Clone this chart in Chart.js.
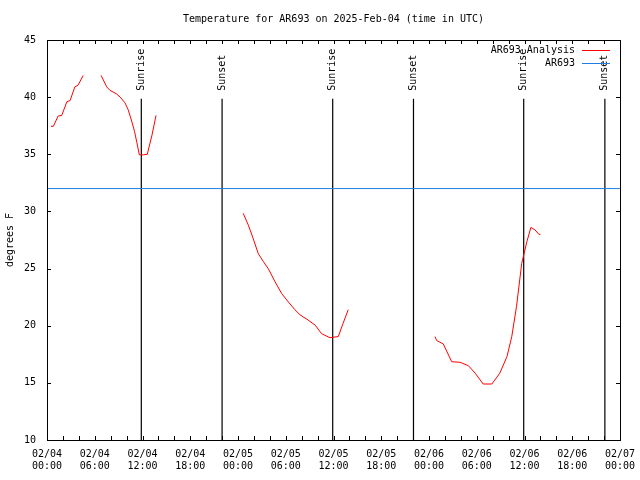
<!DOCTYPE html>
<html>
<head>
<meta charset="utf-8">
<script src="https://cdn.jsdelivr.net/npm/chart.js@4/dist/chart.umd.min.js"></script>
<style>
  html, body { margin: 0; padding: 0; background: #fff; }
</style>
</head>
<body>
<canvas id="tempChart" width="640" height="480"></canvas>
<script>
// hours since 2025-02-04 00:00 UTC, null = gap in the analysis
const analysisHours = [0.5, 0.8, 1.4, 1.85, 2.5, 2.9, 3.5, 3.9, 4.55, 5.5,
  6.8, 7.5, 7.9, 8.7, 9.2, 9.8, 10.2, 10.6, 11.0, 11.3, 11.6, 12.1, 12.6, 13.2, 13.7, 19,
  24.65, 25.3, 25.9, 26.55, 27.2, 27.8, 28.65, 29.5, 30.3, 31.15, 31.8, 32.8, 33.7, 34.5, 35.55, 36.6, 37.2, 37.85, 43,
  48.75, 48.97, 49.8, 50.85, 51.9, 52.95, 53.8, 54.8, 55.9, 56.9, 57.8, 58.4, 59.0, 59.65, 60.3, 60.8, 61.3, 61.8, 62.0];
const analysisTemps = [37.45, 37.45, 38.35, 38.4, 39.6, 39.7, 40.9, 41.05, 41.9, null,
  41.9, 40.9, 40.6, 40.3, 40.0, 39.5, 38.9, 38.0, 37.0, 36.0, 34.95, 34.95, 35.0, 36.7, 38.4, null,
  29.84, 28.8, 27.65, 26.3, 25.6, 25.0, 23.85, 22.8, 22.1, 21.4, 20.95, 20.5, 20.05, 19.3, 18.95, 19.05, 20.2, 21.4, null,
  19.05, 18.7, 18.4, 16.85, 16.8, 16.5, 15.85, 14.9, 14.9, 15.85, 17.3, 19.05, 21.7, 25.45, 27.35, 28.6, 28.4, 28.0, 28.0];

const stationHours = [0, 72];
const stationTemps = [32, 32];

const eventHours = [11.85, 22.0, 35.9, 46.05, 59.9, 70.1];
const eventNames = ["Sunrise", "Sunset", "Sunrise", "Sunset", "Sunrise", "Sunset"];
const eventTop = 39.85;

const xDays = ["02/04", "02/05", "02/06", "02/07"];
const yTicks = [10, 15, 20, 25, 30, 35, 40, 45];

const FONT = '10px "DejaVu Sans Mono"';

function toPoints(xs, ys) {
  return xs.map((x, i) => ({ x: x, y: ys[i] }));
}

const eventPoints = [];
eventHours.forEach(h => {
  eventPoints.push({ x: h, y: 10 }, { x: h, y: eventTop }, { x: h, y: null });
});

const gnuplotDecor = {
  id: "gnuplotDecor",
  afterDraw(chart) {
    const ctx = chart.ctx;
    const a = chart.chartArea;
    const xs = chart.scales.x;
    const ys = chart.scales.y;
    ctx.save();
    ctx.strokeStyle = "#000";
    ctx.lineWidth = 1;

    // frame
    ctx.strokeRect(Math.round(a.left) + 0.5, Math.round(a.top) + 0.5,
      Math.round(a.right - a.left), Math.round(a.bottom - a.top));

    // tick marks, inward and mirrored
    ctx.beginPath();
    for (let h = 0; h <= 72; h += 2) {
      const px = Math.round(xs.getPixelForValue(h)) + 0.5;
      ctx.moveTo(px, a.bottom); ctx.lineTo(px, a.bottom - 4);
      ctx.moveTo(px, a.top); ctx.lineTo(px, a.top + 4);
    }
    yTicks.forEach(v => {
      const py = Math.round(ys.getPixelForValue(v)) + 0.5;
      ctx.moveTo(a.left, py); ctx.lineTo(a.left + 4, py);
      ctx.moveTo(a.right, py); ctx.lineTo(a.right - 4, py);
    });
    ctx.stroke();

    // sunrise / sunset labels
    ctx.fillStyle = "#000";
    ctx.font = FONT;
    eventHours.forEach((h, i) => {
      ctx.save();
      ctx.translate(xs.getPixelForValue(h), ys.getPixelForValue(eventTop) - 8);
      ctx.rotate(-Math.PI / 2);
      ctx.textAlign = "left";
      ctx.textBaseline = "middle";
      ctx.fillText(eventNames[i], 0, 0);
      ctx.restore();
    });

    // title
    ctx.textAlign = "center";
    ctx.textBaseline = "middle";
    ctx.fillText("Temperature for AR693 on 2025-Feb-04 (time in UTC)", (a.left + a.right) / 2, 19);

    // legend (text then line sample, right aligned)
    const sets = chart.data.datasets.slice(0, 2);
    sets.forEach((ds, i) => {
      const y = a.top + 10 + i * 13;
      ctx.textAlign = "right";
      ctx.fillStyle = "#000";
      ctx.fillText(ds.label, a.right - 45, y);
      ctx.strokeStyle = ds.borderColor;
      ctx.beginPath();
      ctx.moveTo(a.right - 38, Math.round(y) + 0.5);
      ctx.lineTo(a.right - 10, Math.round(y) + 0.5);
      ctx.stroke();
    });
    ctx.restore();
  }
};

Chart.defaults.font.family = '"DejaVu Sans Mono", monospace';
Chart.defaults.font.size = 10;
Chart.defaults.color = "#000";

new Chart(document.getElementById("tempChart"), {
  type: "line",
  data: {
    datasets: [
      {
        label: "AR693 Analysis",
        data: toPoints(analysisHours, analysisTemps),
        borderColor: "#ff0000",
        borderWidth: 1,
        pointRadius: 0,
        tension: 0,
        spanGaps: false
      },
      {
        label: "AR693",
        data: toPoints(stationHours, stationTemps),
        borderColor: "#1f7fe0",
        borderWidth: 1,
        pointRadius: 0
      },
      {
        label: "events",
        data: eventPoints,
        borderColor: "#000",
        borderWidth: 1.2,
        pointRadius: 0,
        spanGaps: false
      }
    ]
  },
  options: {
    responsive: false,
    animation: false,
    layout: { padding: { top: 40, right: 20, left: 0, bottom: 0 } },
    plugins: {
      legend: { display: false },
      title: { display: false },
      tooltip: { enabled: false }
    },
    scales: {
      x: {
        type: "linear",
        min: 0,
        max: 72,
        grid: { display: false, drawTicks: false },
        border: { display: false },
        afterFit(scale) {
          scale.height = 40;
          scale.paddingLeft = 0;
          scale.paddingRight = 0;
        },
        ticks: {
          stepSize: 6,
          padding: 8,
          maxRotation: 0,
          font: { size: 10, lineHeight: 1.2 },
          callback(v) {
            const hh = String(v % 24).padStart(2, "0");
            return [xDays[Math.floor(v / 24)], hh + ":00"];
          }
        }
      },
      y: {
        min: 10,
        max: 45,
        grid: { display: false, drawTicks: false },
        border: { display: false },
        afterFit(scale) {
          scale.width = 47;
          scale.paddingTop = 0;
          scale.paddingBottom = 0;
        },
        title: { display: true, text: "degrees F", padding: 4, font: { size: 10 } },
        ticks: { stepSize: 5, padding: 11 }
      }
    }
  },
  plugins: [gnuplotDecor]
});
</script>
</body>
</html>
